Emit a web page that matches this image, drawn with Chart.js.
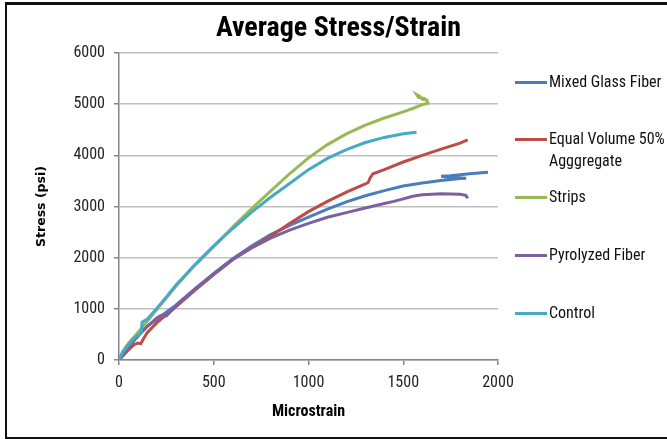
<!DOCTYPE html>
<html>
<head>
<meta charset="utf-8">
<script src="https://cdn.jsdelivr.net/npm/chart.js@4/dist/chart.umd.min.js"></script>
<style>
  html, body { margin: 0; padding: 0; background: #fff; }
  #wrap { position: relative; width: 667px; height: 439px; overflow: hidden; }
  #chart { position: absolute; left: 0; top: 0; }
  #frame {
    position: absolute; left: 5px; top: 2px; width: 700px; height: 437px;
    box-sizing: border-box; border-top: 3px solid #111; border-left: 2px solid #111;
    border-bottom: 2px solid #111; pointer-events: none;
  }
  .narrow { font-family: "Liberation Sans Narrow", "Arial Narrow", "Roboto Condensed", Lato, sans-serif; }
  #title {
    position: absolute; left: 0; width: 677px; top: 10px; text-align: center;
    font-size: 28px; font-weight: bold; color: #000; line-height: 34px;
  }
  .leg { position: absolute; left: 515px; font-size: 16px; color: #111; line-height: 22px; }
  .leg .sw { position: absolute; left: 0; width: 32px; height: 3px; top: 10px; }
  .leg .tx { position: absolute; left: 34px; white-space: nowrap; }
</style>
</head>
<body>
<div id="wrap">
  <canvas id="chart" width="667" height="439"></canvas>
  <div id="title" class="narrow">Average Stress/Strain</div>
  <div id="legend"></div>
  <div id="frame"></div>
</div>
<script>
// ================== DATA ==================
const seriesNames = ["Mixed Glass Fiber", "Equal Volume 50% Agggregate", "Strips", "Pyrolyzed Fiber", "Control"];
const seriesColors = ["#4a7ebb", "#be4b48", "#98b954", "#7d60a0", "#46aac5"];

const mixedX = [0, 25, 50, 100, 150, 200, 300, 400, 500, 600, 700, 800, 900, 1000, 1100, 1200, 1300, 1400, 1500, 1600, 1700, 1800, 1832, 1760, 1700, 1750, 1850, 1947];
const mixedY = [0, 130, 260, 470, 660, 800, 1070, 1390, 1690, 1980, 2230, 2450, 2630, 2790, 2950, 3090, 3210, 3310, 3400, 3460, 3510, 3545, 3550, 3565, 3590, 3600, 3640, 3670];

const equalX = [0, 25, 50, 80, 100, 115, 130, 150, 200, 250, 300, 400, 500, 600, 700, 800, 900, 1000, 1100, 1200, 1300, 1315, 1325, 1340, 1400, 1500, 1600, 1700, 1800, 1840];
const equalY = [0, 100, 200, 300, 330, 320, 420, 540, 730, 880, 1040, 1360, 1670, 1960, 2200, 2420, 2670, 2900, 3100, 3280, 3440, 3470, 3560, 3640, 3720, 3870, 4000, 4120, 4240, 4300];

const stripsX = [0, 20, 50, 100, 150, 200, 300, 400, 500, 600, 700, 800, 900, 1000, 1100, 1200, 1300, 1400, 1500, 1560, 1600, 1630, 1625, 1600, 1585, 1570, 1580, 1610, 1630];
const stripsY = [0, 170, 330, 540, 760, 990, 1440, 1850, 2220, 2600, 2960, 3300, 3640, 3950, 4210, 4420, 4590, 4730, 4850, 4930, 4990, 5020, 5080, 5100, 5160, 5190, 5130, 5110, 5060];

const pyroX = [0, 25, 50, 100, 150, 200, 220, 250, 300, 400, 500, 600, 700, 800, 900, 1000, 1100, 1200, 1300, 1400, 1450, 1500, 1550, 1600, 1700, 1800, 1830, 1840];
const pyroY = [0, 130, 260, 470, 660, 820, 870, 860, 1060, 1380, 1680, 1970, 2190, 2380, 2540, 2670, 2790, 2880, 2970, 3060, 3100, 3150, 3200, 3230, 3250, 3240, 3220, 3160];

const controlX = [0, 20, 50, 80, 110, 118, 122, 150, 200, 250, 300, 400, 500, 600, 700, 800, 900, 1000, 1100, 1200, 1300, 1400, 1500, 1570];
const controlY = [0, 150, 300, 420, 520, 540, 740, 800, 1010, 1230, 1460, 1860, 2230, 2570, 2890, 3180, 3450, 3720, 3940, 4110, 4250, 4350, 4420, 4450];

const xTicks = [0, 500, 1000, 1500, 2000];
const yTicks = [0, 1000, 2000, 3000, 4000, 5000, 6000];

// legend rows (label lines) as in the picture
const legendRows = [["Mixed Glass Fiber"], ["Equal Volume 50%", "Agggregate"], ["Strips"], ["Pyrolyzed Fiber"], ["Control"]];
const legendTops = [71, 128, 186, 244, 302];

// ================== HELPERS ==================
function toPoints(xs, ys) {
  return xs.map((x, i) => ({ x, y: ys[i] }));
}

const NARROW = '"Liberation Sans Narrow", "Arial Narrow", "Roboto Condensed", Lato, sans-serif';

// ================== CHART ==================
const allX = [mixedX, equalX, stripsX, pyroX, controlX];
const allY = [mixedY, equalY, stripsY, pyroY, controlY];

const datasets = seriesNames.map((name, i) => ({
  label: name,
  data: toPoints(allX[i], allY[i]),
  borderColor: seriesColors[i],
  backgroundColor: seriesColors[i],
  borderWidth: 3,
  pointRadius: 0,
  showLine: true,
  tension: 0,
  order: seriesNames.length - i,
}));

new Chart(document.getElementById("chart"), {
  type: "scatter",
  data: { datasets },
  options: {
    responsive: false,
    animation: false,
    layout: { padding: { top: 53, right: 169, left: 0, bottom: 0 } },
    plugins: { legend: { display: false }, tooltip: { enabled: false }, title: { display: false } },
    scales: {
      x: {
        type: "linear",
        min: 0, max: 2000,
        afterBuildTicks: (s) => { s.ticks = xTicks.map(v => ({ value: v })); },
        afterFit: (s) => { s.height = 79; },
        grid: { drawOnChartArea: false, drawTicks: true, tickLength: 5, color: "#868686", lineWidth: 1.5 },
        border: { color: "#868686", width: 1.5 },
        ticks: { color: "#222", font: { family: NARROW, size: 16 }, padding: 8, maxRotation: 0, callback: (v) => String(v) },
        title: { display: true, text: "Microstrain", color: "#000", font: { family: NARROW, size: 16, weight: "bold" }, padding: { top: 0, bottom: 17 } },
      },
      y: {
        min: 0, max: 6000,
        afterBuildTicks: (s) => { s.ticks = yTicks.map(v => ({ value: v })); },
        afterFit: (s) => { s.width = 119; },
        grid: { color: "#c0c0c0", lineWidth: 1.5, tickLength: 5, tickColor: "#868686" },
        border: { color: "#868686", width: 1.5 },
        ticks: { color: "#222", font: { family: NARROW, size: 16 }, padding: 9, callback: (v) => String(v) },
        title: { display: true, text: "Stress (psi)", color: "#000", font: { family: "DejaVu Sans", size: 12.5, weight: "bold" }, padding: { top: 34, bottom: 0 } },
      },
    },
  },
});

// ================== LEGEND ==================
const legendBox = document.getElementById("legend");
legendRows.forEach((lines, i) => {
  const item = document.createElement("div");
  item.className = "leg narrow";
  item.style.top = legendTops[i] + "px";
  item.innerHTML = `<span class="sw" style="background:${seriesColors[i]}"></span><span class="tx">${lines.join("<br>")}</span>`;
  legendBox.appendChild(item);
});
</script>
</body>
</html>
